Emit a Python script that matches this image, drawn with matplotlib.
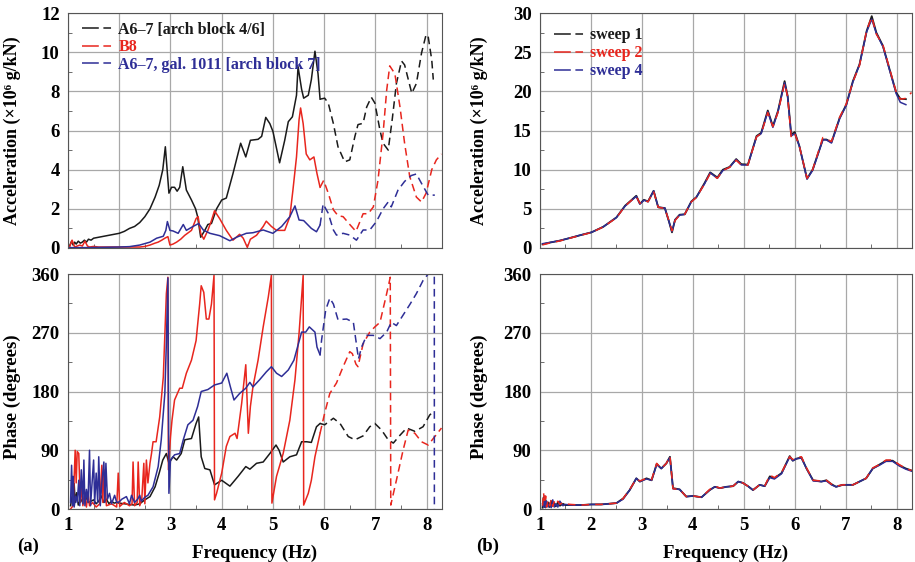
import matplotlib
matplotlib.use("Agg")
import matplotlib.pyplot as plt
from matplotlib.lines import Line2D
from matplotlib.ticker import MultipleLocator

plt.rcParams['font.family'] = ['Liberation Serif', 'DejaVu Serif']
plt.rcParams['font.weight'] = 'bold'
plt.rcParams['axes.labelweight'] = 'bold'

# measured range ends here, extrapolated (dashed) beyond
cut_freq = 5.92

# ---------------- (a) acceleration ----------------
f_a67 = [1.03, 1.07, 1.10, 1.13, 1.16, 1.20, 1.24, 1.28, 1.32, 1.36, 1.40, 1.45, 1.50, 1.60, 1.70,
         1.80, 1.90, 2.00, 2.10, 2.20, 2.30, 2.40, 2.50, 2.60, 2.70, 2.78, 2.85, 2.90, 2.97, 3.02,
         3.08, 3.13, 3.18, 3.24, 3.31, 3.41, 3.49, 3.53, 3.59, 3.67, 3.73, 3.80, 3.90, 4.00, 4.09,
         4.22, 4.37, 4.47, 4.56, 4.71, 4.78, 4.86, 4.94, 5.00, 5.13, 5.23, 5.30, 5.38, 5.46, 5.49,
         5.56, 5.60, 5.69, 5.75, 5.82, 5.88, 5.92, 6.01, 6.08, 6.18, 6.27, 6.40, 6.50, 6.60, 6.66,
         6.76, 6.83, 6.92, 6.99, 7.09, 7.15, 7.25, 7.33, 7.41, 7.51, 7.57, 7.71, 7.80, 7.90, 7.99,
         8.03, 8.10, 8.13]
acc_a67 = [0.1, 0.35, 0.15, 0.3, 0.2, 0.35, 0.25, 0.3, 0.4, 0.3, 0.45, 0.4, 0.5, 0.55, 0.6,
           0.65, 0.7, 0.75, 0.85, 1.0, 1.1, 1.3, 1.6, 2.0, 2.6, 3.2, 4.0, 5.17, 2.8, 3.1,
           3.1, 2.9, 3.1, 4.15, 2.96, 2.45, 2.0, 1.6, 0.55, 0.9, 1.2, 1.25, 2.0, 2.45, 2.55,
           3.8, 5.35, 4.65, 5.5, 5.55, 5.7, 6.67, 6.35, 5.95, 4.35, 5.5, 6.45, 6.7, 7.8, 9.26,
           8.1, 7.65, 7.8, 8.6, 10.05, 8.9, 7.6, 7.65, 7.4, 6.35, 5.17, 4.4, 4.5, 5.7, 6.3,
           6.37, 7.2, 7.7, 7.4, 6.0, 5.35, 5.0, 6.6, 8.4, 9.55, 9.35, 7.9, 8.4, 9.95, 10.9,
           10.8, 9.6, 8.6]

f_b8 = [1.03, 1.08, 1.13, 1.18, 1.23, 1.28, 1.33, 1.38, 1.42, 1.50, 1.60, 1.80, 2.00, 2.20, 2.40,
        2.50, 2.60, 2.70, 2.76, 2.83, 2.89, 2.95, 2.99, 3.05, 3.12, 3.20, 3.28, 3.41, 3.50, 3.54,
        3.59, 3.65, 3.73, 3.80, 3.86, 3.96, 4.09, 4.22, 4.35, 4.42, 4.50, 4.56, 4.68, 4.81, 4.87,
        4.97, 5.07, 5.23, 5.33, 5.39, 5.46, 5.51, 5.54, 5.59, 5.65, 5.72, 5.80, 5.86, 5.92, 5.99,
        6.08, 6.18, 6.27, 6.37, 6.50, 6.62, 6.66, 6.76, 6.86, 6.96, 7.05, 7.15, 7.22, 7.28, 7.38,
        7.48, 7.57, 7.67, 7.80, 7.90, 7.99, 8.10, 8.19, 8.29]
acc_b8 = [0.05, 0.4, 0.05, 0.1, 0.15, 0.1, 0.35, 0.1, 0.05, 0.08, 0.05, 0.05, 0.05, 0.05, 0.05,
          0.08, 0.15, 0.25, 0.3, 0.4, 0.5, 0.58, 0.15, 0.2, 0.3, 0.45, 0.65, 0.9, 1.5, 1.6,
          0.75, 0.45, 0.9, 1.4, 1.9, 1.5, 0.9, 0.4, 0.7, 0.5, 0.03, 0.45, 0.65, 1.1, 1.37,
          1.1, 0.9, 0.9, 1.6, 2.95, 4.65, 6.55, 7.15, 6.35, 4.8, 4.5, 4.65, 3.8, 3.1, 3.45,
          2.8, 1.95, 1.65, 1.6, 1.2, 0.85, 1.1, 1.75, 1.75, 2.1, 3.45, 5.85, 8.05, 9.3, 8.9,
          7.2, 5.35, 3.65, 2.6, 2.35, 2.8, 4.0, 4.5, 4.8]

f_gal = [1.03, 1.2, 1.4, 1.6, 1.8, 2.0, 2.2, 2.4, 2.6, 2.73, 2.86, 2.91, 2.94, 2.99, 3.05,
         3.15, 3.25, 3.31, 3.44, 3.55, 3.64, 3.77, 3.96, 4.16, 4.29, 4.48, 4.61, 4.81, 5.0, 5.17,
         5.33, 5.43, 5.51, 5.6, 5.75, 5.85, 5.92, 5.98, 6.08, 6.18, 6.24, 6.37, 6.5, 6.63, 6.76,
         6.89, 7.02, 7.15, 7.25, 7.31, 7.44, 7.57, 7.7, 7.8, 7.9, 8.03, 8.16]
acc_gal = [0.02, 0.02, 0.02, 0.03, 0.04, 0.05, 0.07, 0.15, 0.3, 0.5, 0.6, 0.9, 1.35, 0.9, 0.87,
           0.75, 1.2, 0.9, 1.1, 1.25, 0.92, 0.75, 0.63, 0.37, 0.55, 0.75, 0.78, 0.92, 0.75, 1.1,
           1.6, 2.15, 1.43, 1.4, 1.0, 0.83, 1.17, 2.25, 1.77, 0.92, 0.66, 0.75, 0.66, 0.4, 0.92,
           0.92, 1.35, 2.0, 2.35, 2.1, 2.95, 3.4, 3.7, 3.78, 3.3, 2.7, 2.7]

# ---------------- (a) phase ----------------
fp_a67 = [1.05, 1.08, 1.10, 1.12, 1.14, 1.17, 1.20, 1.25, 1.30, 1.35, 1.40, 1.45, 1.50, 1.55, 1.60,
          1.65, 1.70, 1.75, 1.80, 1.85, 1.90, 1.95, 2.00, 2.10, 2.20, 2.30, 2.40, 2.50, 2.60, 2.70,
          2.78, 2.85, 2.92, 2.97, 3.05, 3.12, 3.21, 3.28, 3.41, 3.50, 3.55, 3.60, 3.67, 3.77, 3.86,
          4.00, 4.16, 4.32, 4.47, 4.55, 4.68, 4.81, 4.94, 5.06, 5.12, 5.20, 5.33, 5.46, 5.56, 5.66,
          5.75, 5.85, 5.92, 6.01, 6.18, 6.31, 6.47, 6.60, 6.76, 6.89, 6.99, 7.12, 7.25, 7.35, 7.48,
          7.61, 7.77, 7.93, 8.06, 8.13]
ph_a67 = [5, 20, 8, 39, 10, 25, 6, 15, 8, 18, 10, 12, 14, 8, 12,
          20, 10, 15, 8, 12, 9, 10, 9, 8, 7, 6, 8, 14, 19, 34,
          55, 75, 85, 70, 80, 75, 85, 106, 108, 131, 141, 80, 62, 60, 37,
          44, 35, 50, 65, 61, 70, 72, 85, 98, 90, 72, 80, 83, 103, 103,
          102, 126, 131, 129, 139, 131, 111, 106, 112, 126, 131, 121, 106, 101, 113,
          124, 119, 126, 144, 149]

fp_b8 = [1.05, 1.10, 1.14, 1.16, 1.18, 1.21, 1.24, 1.27, 1.29, 1.32, 1.36, 1.39, 1.42, 1.48, 1.55,
         1.62, 1.66, 1.68, 1.70, 1.75, 1.85, 1.95, 1.98, 2.01, 2.10, 2.20, 2.25, 2.27, 2.30, 2.35,
         2.37, 2.40, 2.44, 2.48, 2.50, 2.53, 2.56, 2.60, 2.63, 2.66, 2.72, 2.79, 2.86, 2.92, 2.95,
         2.96, 3.00, 3.03, 3.08, 3.18, 3.23, 3.31, 3.41, 3.50, 3.57, 3.60, 3.65, 3.70, 3.75, 3.80,
         3.85, 3.86, 3.90, 4.00, 4.09, 4.16, 4.26, 4.30, 4.39, 4.47, 4.52, 4.56, 4.61, 4.71, 4.81,
         4.91, 4.97, 4.98, 5.07, 5.20, 5.33, 5.43, 5.51, 5.59, 5.60, 5.69, 5.75, 5.82, 5.92, 6.01,
         6.11, 6.24, 6.37, 6.50, 6.55, 6.62, 6.66, 6.76, 6.89, 6.99, 7.09, 7.22, 7.29, 7.30, 7.41,
         7.54, 7.64, 7.77, 7.90, 8.03, 8.16, 8.29]
ph_b8 = [0, 5, 90, 40, 88, 85, 10, 34, 5, 20, 3, 24, 5, 10, 3,
         8, 67, 10, 60, 5, 8, 3, 55, 4, 10, 5, 8, 72, 5, 10,
         72, 5, 15, 70, 8, 75, 40, 70, 85, 103, 103, 141, 202, 330, 355,
         60, 110, 136, 167, 185, 185, 208, 228, 258, 314, 342, 332, 291, 291, 314,
         358, 14, 24, 55, 96, 111, 116, 108, 162, 221, 116, 157, 187, 228, 279,
         325, 358, 9, 50, 85, 136, 198, 269, 358, 6, 24, 44, 80, 116, 147,
         177, 193, 218, 241, 238, 222, 218, 253, 271, 279, 286, 330, 355, 6, 44,
         90, 121, 116, 103, 98, 111, 124]

fp_gal = [1.05, 1.07, 1.09, 1.10, 1.12, 1.15, 1.18, 1.21, 1.23, 1.26, 1.29, 1.31, 1.33, 1.36, 1.39,
          1.42, 1.44, 1.47, 1.50, 1.52, 1.55, 1.58, 1.60, 1.63, 1.66, 1.70, 1.72, 1.74, 1.77, 1.81,
          1.85, 1.91, 1.95, 2.00, 2.05, 2.14, 2.20, 2.24, 2.30, 2.36, 2.40, 2.43, 2.50, 2.56, 2.66,
          2.76, 2.82, 2.89, 2.92, 2.95, 2.97, 3.00, 3.08, 3.18, 3.25, 3.34, 3.44, 3.53, 3.60, 3.73,
          3.86, 4.00, 4.10, 4.17, 4.24, 4.35, 4.47, 4.55, 4.61, 4.74, 4.87, 4.97, 5.07, 5.17, 5.30,
          5.41, 5.49, 5.56, 5.64, 5.71, 5.82, 5.86, 5.92, 5.95, 6.03, 6.11, 6.18, 6.27, 6.44, 6.57,
          6.62, 6.67, 6.73, 6.83, 6.96, 7.09, 7.22, 7.31, 7.41, 7.54, 7.67, 7.80, 7.93, 8.03, 8.12,
          8.15, 8.151]
ph_gal = [10, 67, 5, 50, 3, 20, 10, 44, 5, 60, 8, 75, 5, 30, 10,
          90, 5, 40, 75, 8, 55, 10, 80, 5, 40, 72, 10, 70, 15, 24,
          8, 21, 10, 11, 15, 19, 8, 21, 10, 15, 21, 12, 18, 21, 34,
          65, 106, 177, 254, 354, 24, 75, 83, 85, 106, 129, 136, 157, 180, 183,
          190, 193, 208, 187, 167, 177, 185, 194, 187, 198, 210, 218, 208, 203, 213,
          228, 251, 271, 271, 279, 271, 248, 236, 259, 305, 323, 314, 290, 291, 286,
          258, 230, 248, 266, 266, 261, 271, 286, 281, 297, 313, 330, 350, 360, 360,
          360, 0]

# ---------------- (b) sweeps ----------------
f_sw = [1.05, 1.2, 1.39, 1.6, 1.8, 2.01, 2.24, 2.5, 2.67, 2.8, 2.89, 2.96, 3.04, 3.12, 3.23,
        3.32, 3.45, 3.53, 3.59, 3.65, 3.74, 3.84, 3.97, 4.07, 4.23, 4.34, 4.48, 4.59, 4.72, 4.85,
        4.95, 5.08, 5.25, 5.34, 5.47, 5.57, 5.67, 5.8, 5.86, 5.93, 6.0, 6.09, 6.24, 6.35, 6.55,
        6.62, 6.72, 6.88, 7.01, 7.14, 7.27, 7.41, 7.51, 7.6, 7.73, 7.86, 7.99, 8.07, 8.18, 8.29]
acc_sweep1 = [0.47, 0.7, 0.94, 1.3, 1.65, 2.0, 2.7, 3.9, 5.4, 6.15, 6.67, 5.65, 6.15, 5.95, 7.3,
              5.2, 5.1, 3.4, 2.0, 3.6, 4.25, 4.3, 5.95, 6.5, 8.3, 9.65, 9.0, 10.0, 10.35, 11.35,
              10.7, 10.65, 14.3, 14.7, 17.55, 15.55, 17.5, 21.3, 19.4, 14.5, 14.8, 13.0, 8.85, 10.0, 13.85,
              13.85, 13.5, 16.6, 18.3, 21.3, 23.45, 27.7, 29.6, 27.5, 25.8, 22.8, 19.85, 19.05, 19.0]
acc_sweep2 = [0.4, 0.65, 0.9, 1.28, 1.62, 1.98, 2.68, 3.85, 5.35, 6.1, 6.55, 5.7, 6.1, 5.9, 7.2,
              5.2, 5.05, 3.5, 2.2, 3.5, 4.2, 4.3, 5.9, 6.45, 8.2, 9.5, 8.9, 9.9, 10.3, 11.2,
              10.6, 10.6, 14.2, 14.6, 17.3, 15.5, 17.3, 21.0, 19.3, 14.1, 14.6, 13.0, 8.9, 10.0, 14.1,
              13.9, 13.6, 16.7, 18.4, 21.2, 23.3, 27.8, 29.5, 27.3, 25.9, 22.9, 19.9, 19.0, 19.1, 19.85]
acc_sweep4 = [0.55, 0.72, 0.95, 1.3, 1.66, 2.0, 2.7, 3.9, 5.35, 6.1, 6.6, 5.6, 6.1, 5.9, 7.3,
              5.2, 5.1, 3.4, 2.1, 3.6, 4.2, 4.3, 5.9, 6.5, 8.2, 9.6, 8.9, 9.9, 10.3, 11.3,
              10.6, 10.6, 14.2, 14.6, 17.4, 15.4, 17.4, 21.1, 19.3, 14.3, 14.6, 13.0, 8.8, 9.9, 13.8,
              13.8, 13.4, 16.5, 18.2, 21.2, 23.4, 27.6, 29.2, 27.4, 25.7, 22.7, 19.7, 18.6, 18.3]

fp_sw = [1.05, 1.07, 1.09, 1.11, 1.13, 1.16, 1.19, 1.22, 1.25, 1.28, 1.31, 1.35, 1.39, 1.45, 1.5,
         1.6, 1.8, 2.01, 2.2, 2.5, 2.63, 2.76, 2.89, 2.96, 3.09, 3.19, 3.29, 3.38, 3.48, 3.55,
         3.61, 3.74, 3.87, 4.0, 4.17, 4.33, 4.43, 4.53, 4.66, 4.79, 4.89, 4.98, 5.08, 5.18, 5.31,
         5.41, 5.51, 5.6, 5.74, 5.9, 5.96, 6.03, 6.13, 6.23, 6.36, 6.52, 6.62, 6.72, 6.81, 6.94,
         7.14, 7.27, 7.4, 7.53, 7.66, 7.79, 7.92, 8.05, 8.18, 8.29]
ph_sweep1 = [2, 18, 3, 14, 4, 10, 3, 12, 5, 9, 4, 10, 5, 8, 6,
             6, 6, 7, 7, 9, 16, 29, 47, 42, 47, 44, 69, 62, 70, 80,
             32, 30, 19, 20, 18, 29, 34, 32, 34, 35, 42, 40, 35, 29, 37,
             35, 50, 47, 55, 81, 74, 77, 79, 62, 44, 42, 44, 38, 34, 37,
             37, 42, 47, 62, 68, 74, 74, 67, 62, 59]
ph_sweep2 = [5, 25, 8, 20, 3, 14, 5, 15, 4, 11, 6, 12, 7, 10, 8,
             7, 6, 7, 7, 9, 16, 30, 46, 43, 47, 45, 70, 62, 70, 81,
             31, 30, 19, 20, 18, 30, 35, 32, 34, 35, 42, 40, 35, 29, 37,
             35, 52, 48, 56, 80, 76, 79, 80, 63, 44, 43, 44, 38, 35, 37,
             37, 42, 47, 63, 68, 75, 75, 68, 62, 59]
ph_sweep4 = [8, 3, 20, 2, 12, 3, 9, 2, 14, 3, 8, 3, 12, 5, 7,
             6, 6, 7, 7, 9, 15, 29, 47, 42, 46, 44, 68, 62, 70, 79,
             31, 30, 19, 20, 18, 29, 34, 32, 34, 35, 42, 40, 35, 29, 37,
             35, 48, 46, 54, 80, 74, 77, 78, 62, 43, 42, 43, 37, 34, 37,
             37, 42, 47, 62, 67, 73, 73, 66, 61, 58]

labels_a = ['A6\u20137 [arch block 4/6]', 'B8', 'A6\u20137, gal. 1011 [arch block 7]']
labels_b = ['sweep 1', 'sweep 2', 'sweep 4']
c_black, c_red, c_blue = '#1a1a1a', '#e8261e', '#2e2e96'

W, H = 915, 562
fig = plt.figure(figsize=(W / 100, H / 100), dpi=100)
ax_a1 = fig.add_axes([68 / W, 1 - 248 / H, 374 / W, 235 / H])
ax_a2 = fig.add_axes([68 / W, 1 - 509 / H, 374 / W, 235 / H])
ax_b1 = fig.add_axes([540 / W, 1 - 248 / H, 372 / W, 235 / H])
ax_b2 = fig.add_axes([540 / W, 1 - 509 / H, 372 / W, 235 / H])


def split_plot(ax, f, y, color):
    solid_f = [v for v in f if v <= cut_freq]
    n = len(solid_f)
    ax.plot(f[:n], y[:n], color=color, lw=1.1)
    ax.plot(f[n - 1:], y[n - 1:], color=color, lw=1.1, ls=(0, (5, 3)))


for f, y, c in [(f_a67, acc_a67, c_black), (f_b8, acc_b8, c_red), (f_gal, acc_gal, c_blue)]:
    split_plot(ax_a1, f, y, c)
for f, y, c in [(fp_a67, ph_a67, c_black), (fp_b8, ph_b8, c_red), (fp_gal, ph_gal, c_blue)]:
    split_plot(ax_a2, f, y, c)

ax_b1.plot(f_sw[:len(acc_sweep1)], acc_sweep1, color=c_black, lw=1.3)
ax_b1.plot(f_sw[:len(acc_sweep4)], acc_sweep4, color=c_blue, lw=1.1)
ax_b1.plot(f_sw[:len(acc_sweep2)], acc_sweep2, color=c_red, lw=1.1, ls=(0, (5, 4)))
ax_b2.plot(fp_sw, ph_sweep1, color=c_black, lw=1.3)
ax_b2.plot(fp_sw, ph_sweep4, color=c_blue, lw=1.1)
ax_b2.plot(fp_sw, ph_sweep2, color=c_red, lw=1.1, ls=(0, (5, 4)))

for ax in [ax_a1, ax_a2, ax_b1, ax_b2]:
    ax.set_xlim(1, 8.3)
    ax.xaxis.set_major_locator(MultipleLocator(1))
    ax.xaxis.set_minor_locator(MultipleLocator(0.5))
    ax.grid(True, which='major', color='#a8a8a8', lw=0.9)
    for s in ax.spines.values():
        s.set_color('#555555')
    ax.tick_params(which='major', direction='in', length=0, labelsize=13.5, pad=6)
    ax.tick_params(which='minor', direction='in', length=3, color='#555555')

ax_a1.set_ylim(0, 12)
ax_a1.yaxis.set_major_locator(MultipleLocator(2))
ax_a1.yaxis.set_minor_locator(MultipleLocator(1))
ax_b1.set_ylim(0, 30)
ax_b1.yaxis.set_major_locator(MultipleLocator(5))
ax_b1.yaxis.set_minor_locator(MultipleLocator(2.5))
for ax in [ax_a2, ax_b2]:
    ax.set_ylim(0, 360)
    ax.yaxis.set_major_locator(MultipleLocator(90))
    ax.yaxis.set_minor_locator(MultipleLocator(45))
for ax in [ax_a1, ax_b1]:
    ax.tick_params(axis='x', labelbottom=False)
    ax.set_ylabel('Acceleration (\u00d710\u2076 g/kN)', fontsize=13, fontweight='bold')
for ax in [ax_a2, ax_b2]:
    ax.set_ylabel('Phase (degrees)', fontsize=13.5, fontweight='bold')
    ax.set_xlabel('Frequency (Hz)', fontsize=13.5, fontweight='bold')
    ax.xaxis.set_label_coords(0.5, -0.15)

ax_a1.yaxis.set_label_coords(-0.125, 0.5)
ax_a2.yaxis.set_label_coords(-0.125, 0.48)
ax_b1.yaxis.set_label_coords(-0.14, 0.5)
ax_b2.yaxis.set_label_coords(-0.14, 0.48)

legend_ls = (0, (11, 3, 5, 60))
h_a = [Line2D([], [], color=c, lw=1.1, ls=legend_ls) for c in (c_black, c_red, c_blue)]
leg_a = ax_a1.legend(h_a, labels_a, loc='upper left', bbox_to_anchor=(0.0, 1.025), frameon=False,
                     handlelength=1.85, handletextpad=0.4, labelspacing=0.1,
                     labelcolor=[c_black, c_red, c_blue], prop={'size': 11.5, 'weight': 'bold'})
h_b = [Line2D([], [], color=c, lw=1.1, ls=legend_ls) for c in (c_black, c_red, c_blue)]
leg_b = ax_b1.legend(h_b, labels_b, loc='upper left', bbox_to_anchor=(0.0, 1.0), frameon=False,
                     handlelength=1.85, handletextpad=0.4, labelspacing=0.12,
                     labelcolor=[c_black, c_red, c_blue], prop={'size': 11.5, 'weight': 'bold'})
for leg in (leg_a, leg_b):
    for t in leg.get_texts():
        t.set_fontweight('bold')

fig.text(28 / W, 1 - 546 / H, '(a)', fontsize=13.5, fontweight='bold', ha='center', va='center')
fig.text(488 / W, 1 - 546 / H, '(b)', fontsize=13.5, fontweight='bold', ha='center', va='center')

for ax in [ax_a1, ax_a2, ax_b1, ax_b2]:
    plt.setp(ax.get_xticklabels() + ax.get_yticklabels(), fontweight='bold')

fig.savefig('out.png', dpi=100)
